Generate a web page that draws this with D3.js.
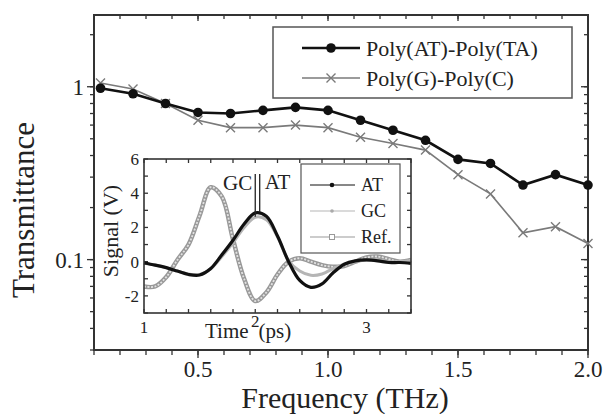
<!DOCTYPE html>
<html>
<head>
<meta charset="utf-8">
<script src="https://cdn.jsdelivr.net/npm/d3@7"></script>
<style>
body { margin: 0; background: #fff; }
</style>
</head>
<body>
<div id="chart"></div>
<script>
// main plot: transmittance vs frequency
var freq = [0.125, 0.25, 0.375, 0.5, 0.625, 0.75, 0.875, 1.0, 1.125, 1.25, 1.375, 1.5, 1.625, 1.75, 1.875, 2.0];
var transAT = [0.98, 0.91, 0.80, 0.71, 0.70, 0.73, 0.76, 0.73, 0.64, 0.56, 0.49, 0.38, 0.36, 0.27, 0.31, 0.27];
var transGC = [1.05, 0.97, 0.80, 0.64, 0.58, 0.58, 0.60, 0.58, 0.51, 0.47, 0.43, 0.31, 0.24, 0.143, 0.155, 0.124];
var freqLabels = [0.5, 1.0, 1.5, 2.0];
var transLabels = [0.1, 1];

// inset: time domain signals
var time = [1.0, 1.1, 1.2, 1.3, 1.4, 1.5, 1.6, 1.7, 1.8, 1.9, 2.0, 2.1, 2.2, 2.3, 2.4, 2.5, 2.6, 2.7, 2.8, 2.9, 3.0, 3.1, 3.2, 3.3, 3.4];
var sigAT = [-0.08, -0.2, -0.35, -0.55, -0.75, -0.78, -0.4, 0.4, 1.25, 2.2, 2.85, 2.65, 1.5, 0.0, -1.1, -1.5, -1.3, -0.65, -0.15, 0.05, 0.1, 0.05, -0.05, -0.05, -0.1];
var sigGC = [-0.1, -0.2, -0.35, -0.55, -0.72, -0.75, -0.42, 0.3, 1.1, 2.0, 2.6, 2.45, 1.45, 0.05, -0.55, -0.8, -0.72, -0.4, -0.15, 0.0, 0.1, 0.1, 0.0, 0.0, 0.05];
var sigRef = [-1.45, -1.45, -0.9, 0.1, 1.0, 2.7, 4.35, 3.8, 1.3, -1.0, -2.3, -1.8, -0.75, 0.0, 0.2, 0.0, -0.2, -0.3, -0.25, 0.0, 0.25, 0.3, 0.15, 0.0, 0.1];
var timeLabels = [1, 2, 3];
var signalLabels = [-2, 0, 2, 4, 6];
var peakAT = 2.04, peakGC = 2.0;

var W = 603, H = 414;
var svg = d3.select("#chart").append("svg").attr("width", W).attr("height", H)
	.attr("font-family", "'Liberation Serif', 'Times New Roman', Times, serif");

var x = d3.scaleLinear().domain([0.1, 2.0]).range([94, 588]);
var y = d3.scaleLog().domain([0.03, 2.6]).range([350, 15]);

function tickLines(g, vals, pos, x1, x2, vertical) {
	g.selectAll(null).data(vals).enter().append("line")
		.attr("x1", function(d){ return vertical ? pos(d) : x1 })
		.attr("x2", function(d){ return vertical ? pos(d) : x2 })
		.attr("y1", function(d){ return vertical ? x1 : pos(d) })
		.attr("y2", function(d){ return vertical ? x2 : pos(d) })
		.attr("stroke", "#333").attr("stroke-width", 1.3);
}

// main frame ticks
var fMinor = d3.range(1, 21).map(function(i){ return i / 10 });
var gMinor = [];
[0.01, 0.1, 1].forEach(function(dec){
	for (var k = 1; k < 10; k++) { var v = +(k * dec).toPrecision(3); if (v >= 0.03 && v <= 2.6) gMinor.push(v); }
});
var ax = svg.append("g");
tickLines(ax, fMinor, x, 350, 355, true);
tickLines(ax, freqLabels, x, 350, 358, true);
tickLines(ax, fMinor, x, 15, 19, true);
tickLines(ax, freqLabels, x, 15, 21, true);
tickLines(ax, gMinor, y, 94, 90, false);
tickLines(ax, transLabels, y, 94, 87, false);
tickLines(ax, gMinor, y, 588, 584, false);
tickLines(ax, transLabels, y, 588, 581, false);

svg.append("rect").attr("x", 94).attr("y", 15).attr("width", 494).attr("height", 335)
	.attr("fill", "none").attr("stroke", "#333").attr("stroke-width", 2);

svg.append("g").selectAll("text").data(freqLabels).enter().append("text")
	.attr("x", function(d){ return x(d) }).attr("y", 377)
	.attr("text-anchor", "middle").attr("font-size", 23).attr("fill", "#222")
	.text(function(d){ return d3.format(".1f")(d) });
svg.append("g").selectAll("text").data(transLabels).enter().append("text")
	.attr("x", 84).attr("y", function(d){ return y(d) + 8 })
	.attr("text-anchor", "end").attr("font-size", 23).attr("fill", "#222")
	.text(function(d){ return d });

svg.append("text").attr("x", 345).attr("y", 408).attr("text-anchor", "middle").attr("fill", "#222")
	.attr("font-size", 30).text("Frequency (THz)");
svg.append("text").attr("transform", "translate(34,210) rotate(-90)").attr("text-anchor", "middle").attr("fill", "#222")
	.attr("font-size", 31).text("Transmittance");

// main series
var lineMain = d3.line().x(function(d){ return x(d[0]) }).y(function(d){ return y(d[1]) });
var dAT = freq.map(function(f, i){ return [f, transAT[i]] });
var dGC = freq.map(function(f, i){ return [f, transGC[i]] });

svg.append("path").datum(dGC).attr("d", lineMain).attr("fill", "none").attr("stroke", "#7a7a7a").attr("stroke-width", 1.6);
svg.append("g").selectAll("path").data(dGC).enter().append("path")
	.attr("transform", function(d){ return "translate(" + x(d[0]) + "," + y(d[1]) + ")" })
	.attr("d", "M-4.5,-4.5L4.5,4.5M-4.5,4.5L4.5,-4.5")
	.attr("stroke", "#7a7a7a").attr("stroke-width", 1.4).attr("fill", "none");
svg.append("path").datum(dAT).attr("d", lineMain).attr("fill", "none").attr("stroke", "#111").attr("stroke-width", 2.6);
svg.append("g").selectAll("circle").data(dAT).enter().append("circle")
	.attr("cx", function(d){ return x(d[0]) }).attr("cy", function(d){ return y(d[1]) })
	.attr("r", 4.8).attr("fill", "#111");

// main legend
var lg = svg.append("g");
lg.append("rect").attr("x", 273).attr("y", 27).attr("width", 299).attr("height", 71)
	.attr("fill", "#fff").attr("stroke", "#555").attr("stroke-width", 1.5);
lg.append("line").attr("x1", 302).attr("x2", 360).attr("y1", 48).attr("y2", 48).attr("stroke", "#111").attr("stroke-width", 2.6);
lg.append("circle").attr("cx", 331).attr("cy", 48).attr("r", 4.8).attr("fill", "#111");
lg.append("line").attr("x1", 302).attr("x2", 360).attr("y1", 78).attr("y2", 78).attr("stroke", "#7a7a7a").attr("stroke-width", 1.6);
lg.append("path").attr("transform", "translate(331,78)").attr("d", "M-4.5,-4.5L4.5,4.5M-4.5,4.5L4.5,-4.5")
	.attr("stroke", "#7a7a7a").attr("stroke-width", 1.4);
lg.append("text").attr("x", 366).attr("y", 56).attr("font-size", 22).attr("fill", "#222").text("Poly(AT)-Poly(TA)");
lg.append("text").attr("x", 366).attr("y", 86).attr("font-size", 22).attr("fill", "#222").text("Poly(G)-Poly(C)");

// inset
var xi = d3.scaleLinear().domain([1, 3.4]).range([144, 411]);
var yi = d3.scaleLinear().domain([-3, 6]).range([313, 159]);
var ins = svg.append("g");
ins.append("rect").attr("x", 144).attr("y", 159).attr("width", 267).attr("height", 154).attr("fill", "#fff");

var tMinor = d3.range(1, 3.41, 0.2);
var sMinor = d3.range(-3, 6.1, 1);
tickLines(ins, tMinor, xi, 313, 309, true);
tickLines(ins, tMinor, xi, 159, 163, true);
tickLines(ins, sMinor, yi, 144, 148, false);
tickLines(ins, sMinor, yi, 411, 407, false);

var lineIns = d3.line().curve(d3.curveCatmullRom.alpha(0.5))
	.x(function(d){ return xi(d[0]) }).y(function(d){ return yi(d[1]) });
var dRef = time.map(function(t, i){ return [t, sigRef[i]] });
var dsGC = time.map(function(t, i){ return [t, sigGC[i]] });
var dsAT = time.map(function(t, i){ return [t, sigAT[i]] });

ins.append("path").datum(dRef).attr("d", lineIns).attr("fill", "none").attr("stroke", "#999").attr("stroke-width", 4.5);
ins.append("path").datum(dRef).attr("d", lineIns).attr("fill", "none").attr("stroke", "#e2e2e2").attr("stroke-width", 1.8).attr("stroke-dasharray", "2,1.5");
ins.append("path").datum(dsGC).attr("d", lineIns).attr("fill", "none").attr("stroke", "#b5b5b5").attr("stroke-width", 3);
ins.append("path").datum(dsAT).attr("d", lineIns).attr("fill", "none").attr("stroke", "#111").attr("stroke-width", 3.2);

ins.append("rect").attr("x", 144).attr("y", 159).attr("width", 267).attr("height", 154)
	.attr("fill", "none").attr("stroke", "#333").attr("stroke-width", 1.6);

ins.append("g").selectAll("text").data(timeLabels).enter().append("text")
	.attr("x", function(d){ return xi(d) }).attr("y", function(d){ return d == 2 ? 327 : 333 })
	.attr("text-anchor", "middle").attr("font-size", 17).attr("fill", "#222").text(function(d){ return d });
ins.append("g").selectAll("text").data(signalLabels).enter().append("text")
	.attr("x", 139).attr("y", function(d){ return yi(d) + 6 })
	.attr("text-anchor", "end").attr("font-size", 17).attr("fill", "#222").text(function(d){ return d });
ins.append("text").attr("x", xi(1.94)).attr("y", 338).attr("text-anchor", "end").attr("font-size", 21).attr("fill", "#222").text("Time");
ins.append("text").attr("x", xi(2.03)).attr("y", 338).attr("font-size", 21).attr("fill", "#222").text("(ps)");
ins.append("text").attr("transform", "translate(118,231) rotate(-90)").attr("text-anchor", "middle")
	.attr("font-size", 22).attr("fill", "#222").text("Signal (V)");

// peak markers
ins.append("line").attr("x1", xi(peakGC)).attr("x2", xi(peakGC)).attr("y1", 174).attr("y2", yi(2.62)).attr("stroke", "#222").attr("stroke-width", 1.3);
ins.append("line").attr("x1", xi(peakAT)).attr("x2", xi(peakAT)).attr("y1", 174).attr("y2", yi(2.9)).attr("stroke", "#222").attr("stroke-width", 1.3);
ins.append("text").attr("x", xi(peakGC) - 3).attr("y", 190).attr("text-anchor", "end").attr("font-size", 21).attr("fill", "#222").text("GC");
ins.append("text").attr("x", xi(peakAT) + 5).attr("y", 189).attr("font-size", 21).attr("fill", "#222").text("AT");

// inset legend
var il = ins.append("g");
il.append("rect").attr("x", 301).attr("y", 164).attr("width", 99).attr("height", 89)
	.attr("fill", "#fff").attr("stroke", "#555").attr("stroke-width", 1.2);
var legRows = [
	{ name: "AT", y: 185, color: "#111" },
	{ name: "GC", y: 211, color: "#b5b5b5" },
	{ name: "Ref.", y: 237, color: "#999" }
];
legRows.forEach(function(r){
	il.append("line").attr("x1", 310).attr("x2", 355).attr("y1", r.y).attr("y2", r.y).attr("stroke", r.color).attr("stroke-width", 1);
	il.append("text").attr("x", 361).attr("y", r.y + 6).attr("font-size", 18).attr("fill", "#222").text(r.name);
});
il.append("circle").attr("cx", 332).attr("cy", 185).attr("r", 2.3).attr("fill", "#111");
il.append("circle").attr("cx", 332).attr("cy", 211).attr("r", 1.8).attr("fill", "#aaa");
il.append("rect").attr("x", 329.5).attr("y", 234.5).attr("width", 5).attr("height", 5).attr("fill", "#fff").attr("stroke", "#999");
</script>
</body>
</html>
